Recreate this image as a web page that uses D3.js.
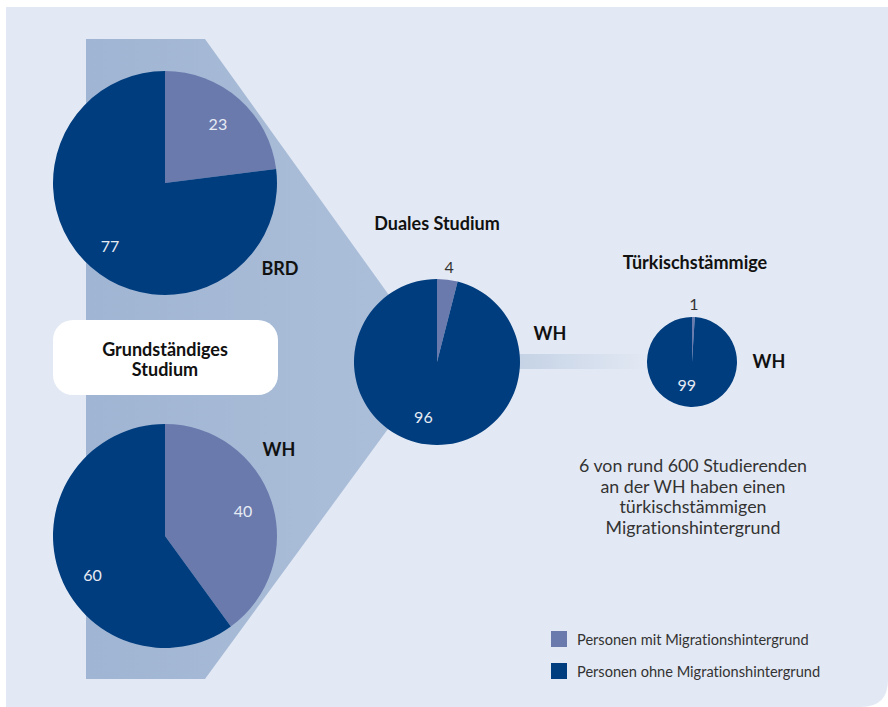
<!DOCTYPE html>
<html>
<head>
<meta charset="utf-8">
<script src="https://cdn.jsdelivr.net/npm/d3@7"></script>
<style>
  body { margin: 0; background: #fff; }
  svg text { font-family: Lato, "Open Sans", sans-serif; font-variant-ligatures: none; }
  .bold { font-weight: 700; fill: #111; }
</style>
</head>
<body>
<svg id="chart" width="888" height="707"></svg>
<script>
// Data
const categories = ["Personen mit Migrationshintergrund", "Personen ohne Migrationshintergrund"];
const brdValues = [23, 77];
const whGrundValues = [40, 60];
const dualValues = [4, 96];
const tuerkValues = [1, 99];
const noteLines = ["6 von rund 600 Studierenden", "an der WH haben einen", "türkischstämmigen", "Migrationshintergrund"];

const colors = d3.scaleOrdinal().domain(categories).range(["#6b7aad", "#003d7e"]);

const svg = d3.select("#chart");

// gradients
const defs = svg.append("defs");
const trapGrad = defs.append("linearGradient").attr("id", "trap").attr("x1", "0%").attr("x2", "100%");
trapGrad.append("stop").attr("offset", "0%").attr("stop-color", "#a0b5d3");
trapGrad.append("stop").attr("offset", "100%").attr("stop-color", "#adc0da");
const barGrad = defs.append("linearGradient").attr("id", "bar").attr("x1", "0%").attr("x2", "100%");
barGrad.append("stop").attr("offset", "0%").attr("stop-color", "#c4d2e5");
barGrad.append("stop").attr("offset", "100%").attr("stop-color", "#e3e9f4");

// background panel, bottom-right corner rounded
svg.append("path")
    .attr("d", "M6,7 H888 V680 Q888,707 861,707 H6 Z")
    .attr("fill", "#e3e9f4");

// funnel shape from left pies to the middle pie
svg.append("path")
    .attr("d", d3.line()([[86, 39], [205, 39], [437, 362], [205, 679], [86, 679]]) + "Z")
    .attr("fill", "url(#trap)");

// connector bar between the two right pies
svg.append("rect")
    .attr("x", 515).attr("y", 354).attr("width", 135).attr("height", 15)
    .attr("fill", "url(#bar)");

const pie = d3.pie().sort(null).value(d => d.value);

// label radius and small angle shift (radians) per slice
function drawPie(values, cx, cy, r, inLabels, shift) {
    const data = pie(values.map((v, i) => ({ key: categories[i], value: v })));
    const arc = d3.arc().innerRadius(0).outerRadius(r);
    const g = svg.append("g").attr("transform", `translate(${cx},${cy})`);
    g.selectAll("path").data(data).enter().append("path")
        .attr("d", arc)
        .attr("fill", d => colors(d.data.key));
    data.forEach((d, i) => {
        const lr = inLabels[i];
        const a = (d.startAngle + d.endAngle) / 2 + (shift ? shift[i] : 0);
        const outside = lr > r;
        g.append("text")
            .attr("x", lr * Math.sin(a))
            .attr("y", -lr * Math.cos(a))
            .attr("text-anchor", "middle")
            .attr("dominant-baseline", "central")
            .attr("font-size", 16)
            .attr("fill", outside ? "#333" : "#e6ebf4")
            .text(d.value);
    });
    return g;
}

drawPie(brdValues, 165, 183, 112, [80, 83]);
drawPie(whGrundValues, 165, 536, 112, [82, 82], [0, -0.17]);
drawPie(dualValues, 437, 362, 83, [96, 56], [0, 0.12]);
drawPie(tuerkValues, 692, 362, 45, [59, 23], [0, 0.2]);

// white label box
svg.append("rect")
    .attr("x", 53).attr("y", 320).attr("width", 225).attr("height", 75)
    .attr("rx", 20).attr("fill", "#fff");
svg.append("text").attr("class", "bold").attr("x", 165).attr("y", 349)
    .attr("text-anchor", "middle").attr("dominant-baseline", "central").attr("font-size", 18)
    .text("Grundständiges");
svg.append("text").attr("class", "bold").attr("x", 165).attr("y", 369)
    .attr("text-anchor", "middle").attr("dominant-baseline", "central").attr("font-size", 18)
    .text("Studium");

// bold captions
const captions = [
    { t: "BRD", x: 280, y: 268 },
    { t: "WH", x: 279, y: 449 },
    { t: "Duales Studium", x: 437, y: 223 },
    { t: "WH", x: 550, y: 333 },
    { t: "Türkischstämmige", x: 695, y: 262 },
    { t: "WH", x: 769, y: 361 }
];
svg.selectAll("text.cap").data(captions).enter().append("text")
    .attr("class", "bold cap")
    .attr("x", d => d.x).attr("y", d => d.y)
    .attr("text-anchor", "middle").attr("dominant-baseline", "central")
    .attr("font-size", 18)
    .text(d => d.t);

// note
svg.selectAll("text.note").data(noteLines).enter().append("text")
    .attr("class", "note")
    .attr("x", 693).attr("y", (d, i) => 465 + i * 20.7)
    .attr("text-anchor", "middle").attr("dominant-baseline", "central")
    .attr("font-size", 17.8).attr("fill", "#333")
    .text(d => d);

// legend
const legend = svg.selectAll("g.legend").data(categories).enter().append("g")
    .attr("class", "legend")
    .attr("transform", (d, i) => `translate(551,${631 + i * 32})`);
legend.append("rect").attr("width", 16).attr("height", 16).attr("fill", d => colors(d));
legend.append("text").attr("x", 26).attr("y", 8)
    .attr("dominant-baseline", "central").attr("font-size", 14.6).attr("fill", "#333")
    .text(d => d);
</script>
</body>
</html>
